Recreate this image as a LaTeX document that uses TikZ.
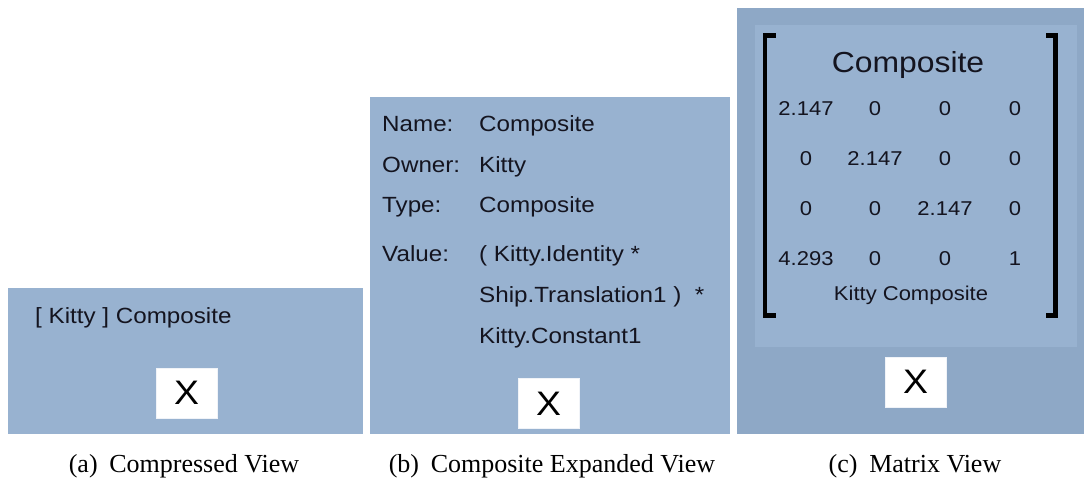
\documentclass[tikz,border=0pt]{standalone}
\usepackage{fontspec}
\newfontfamily\uifont[FakeStretch=1.1]{Liberation Sans}
\newfontfamily\capfont{Liberation Serif}
\definecolor{panelblue}{HTML}{98B2D0}
\definecolor{paneldark}{HTML}{8EA8C6}
\definecolor{uitext}{HTML}{14141F}
\tikzset{
  panel/.style={fill=panelblue, draw=none, inner sep=0pt, anchor=north west},
  xbox/.style={fill=white, draw=white!85!panelblue, line width=0.6pt, minimum width=61pt, minimum height=50pt, inner sep=0pt},
  xmark/.style={font=\uifont\fontsize{34}{34}\selectfont, text=black, inner sep=0pt},
  lbl/.style={font=\uifont\fontsize{22}{22}\selectfont, text=uitext, inner sep=0pt, anchor=base west},
  cell/.style={font=\uifont\fontsize{20}{20}\selectfont, text=uitext, inner sep=0pt, anchor=base},
  title/.style={font=\uifont\fontsize{29}{29}\selectfont, text=uitext, inner sep=0pt, anchor=base},
  caption/.style={font=\capfont\fontsize{26}{26}\selectfont, text=black, inner sep=0pt, anchor=base},
  bracket/.style={line width=4.5pt, black, miter limit=10}
}
\begin{document}
\begin{tikzpicture}[x=1pt, y=-1pt]
\useasboundingbox (0,0) rectangle (1084,482);
\fill[white] (0,0) rectangle (1084,482);

% (a) compressed view
\node[panel, minimum width=355pt, minimum height=146pt] (pa) at (8,288) {};
\node[lbl] (aname) at (35,323) {[ Kitty ] Composite};
\node[xbox] (ax) at (186.5,393) {};
\node[xmark] (axl) at (ax.center) {X};
\node[caption] (capa) at (184,472) {(a)\hspace{0.45em}Compressed View};

% (b) composite expanded view
\node[panel, minimum width=360pt, minimum height=337pt] (pb) at (370,97) {};
\node[lbl] (bk1) at (382,131) {Name:};
\node[lbl] (bv1) at (479,131) {Composite};
\node[lbl] (bk2) at (382,172) {Owner:};
\node[lbl] (bv2) at (479,172) {Kitty};
\node[lbl] (bk3) at (382,212) {Type:};
\node[lbl] (bv3) at (479,212) {Composite};
\node[lbl] (bk4) at (382,261) {Value:};
\node[lbl] (bv4) at (479,261) {( Kitty.Identity *};
\node[lbl] (bv5) at (479,302) {Ship.Translation1 )\ \ *};
\node[lbl] (bv6) at (479,343) {Kitty.Constant1};
\node[xbox] (bx) at (548.5,403.5) {};
\node[xmark] (bxl) at (bx.center) {X};
\node[caption] (capb) at (552,472) {(b)\hspace{0.45em}Composite Expanded View};

% (c) matrix view
\node[panel, fill=paneldark, minimum width=347pt, minimum height=426pt] (pc) at (737,8) {};
\node[panel, minimum width=322pt, minimum height=322pt] (pci) at (755,25) {};
\draw[bracket] (775.5,35.3) -- (764.8,35.3) -- (764.8,315.7) -- (775.5,315.7);
\draw[bracket] (1046,35.3) -- (1055.6,35.3) -- (1055.6,315.7) -- (1046,315.7);
\node[title] (ctitle) at (908,72) {Composite};
\foreach \r/\y/\a/\b/\c/\d in {1/115/2.147/0/0/0, 2/165/0/2.147/0/0, 3/215/0/0/2.147/0, 4/265/4.293/0/0/1}{
  \node[cell] (m\r a) at (806,\y) {\a};
  \node[cell] (m\r b) at (875,\y) {\b};
  \node[cell] (m\r c) at (945,\y) {\c};
  \node[cell] (m\r d) at (1015,\y) {\d};
}
\node[cell] (cname) at (911,300) {Kitty Composite};
\node[xbox] (cx) at (915.5,382) {};
\node[xmark] (cxl) at (cx.center) {X};
\node[caption] (capc) at (915,472) {(c)\hspace{0.45em}Matrix View};
\end{tikzpicture}
\end{document}
